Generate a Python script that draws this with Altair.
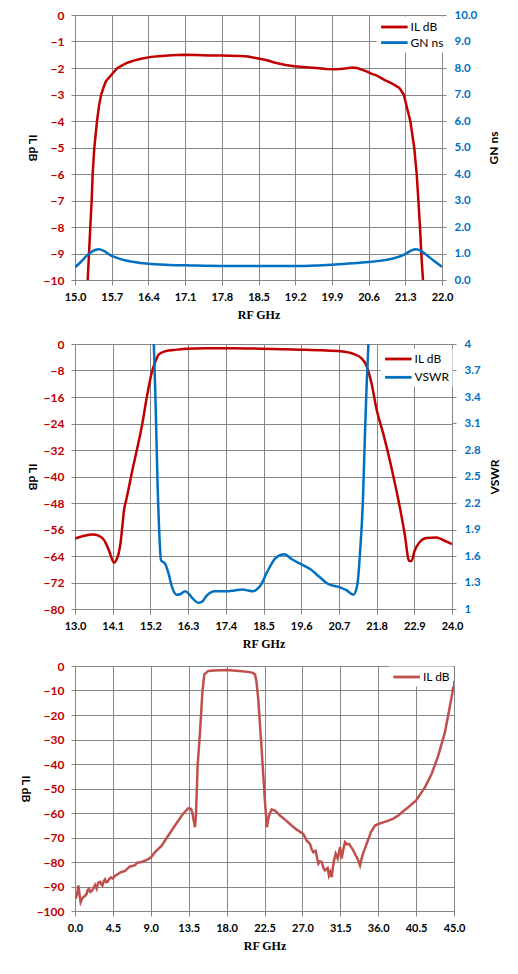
import altair as alt
import pandas as pd

# ---------------- data ----------------
# Chart 1: IL dB and group delay (GN ns) 15-22 GHz
c1_il_f = [15.18, 15.242, 15.267, 15.292, 15.318, 15.337, 15.369, 15.42, 15.46, 15.50, 15.55, 15.59,
           15.655, 15.72, 15.81, 15.90, 16.00, 16.12, 16.26, 16.45, 16.65, 16.85, 17.08, 17.30,
           17.55, 17.78, 17.95, 18.15, 18.30, 18.42, 18.55, 18.68, 18.80, 18.93, 19.05, 19.18,
           19.40, 19.60, 19.80, 19.95, 20.05, 20.15, 20.30, 20.38, 20.45, 20.55, 20.64, 20.77,
           20.90, 21.06, 21.186, 21.27, 21.395, 21.47, 21.517, 21.55, 21.58, 21.605, 21.637, 21.68]
c1_il_db = [-12.0, -10.0, -9.0, -8.0, -7.0, -6.0, -5.0, -4.0, -3.4, -3.0, -2.7, -2.5,
            -2.35, -2.2, -2.0, -1.9, -1.8, -1.72, -1.65, -1.58, -1.55, -1.52, -1.50, -1.51,
            -1.53, -1.53, -1.54, -1.55, -1.57, -1.61, -1.66, -1.72, -1.79, -1.85, -1.90, -1.93,
            -1.97, -2.00, -2.04, -2.05, -2.04, -2.02, -1.98, -2.00, -2.05, -2.12, -2.20, -2.30,
            -2.45, -2.60, -2.75, -3.0, -4.0, -5.0, -6.0, -7.0, -8.0, -9.0, -10.0, -12.0]
c1_gn_f = [15.00, 15.10, 15.20, 15.30, 15.40, 15.45, 15.55, 15.65, 15.75, 15.90, 16.10, 16.40,
           16.80, 17.20, 17.80, 18.50, 19.20, 19.60, 19.90, 20.30, 20.60, 20.90, 21.10, 21.30,
           21.42, 21.50, 21.60, 21.70, 21.85, 22.00]
c1_gn_ns = [0.48, 0.66, 0.87, 1.04, 1.14, 1.16, 1.10, 0.97, 0.87, 0.77, 0.69, 0.61,
            0.57, 0.55, 0.53, 0.53, 0.53, 0.55, 0.58, 0.63, 0.68, 0.75, 0.83, 0.98,
            1.12, 1.16, 1.10, 0.95, 0.72, 0.50]

# Chart 2: IL dB and VSWR 13-24 GHz
c2_il_f = [13.00, 13.27, 13.51, 13.70, 13.85, 13.99, 14.14, 14.216, 14.274, 14.33, 14.38, 14.43,
           14.50, 14.57, 14.67, 14.81, 14.96, 15.10, 15.25, 15.35, 15.44, 15.63, 15.97, 16.26,
           16.80, 17.40, 18.00, 18.42, 19.00, 19.58, 20.20, 20.74, 21.12, 21.37, 21.51, 21.66,
           21.80, 22.00, 22.19, 22.33, 22.48, 22.62, 22.75, 22.82, 22.91, 23.05, 23.25, 23.54,
           23.78, 24.00]
c2_il_db = [-58.7, -57.9, -57.5, -57.9, -59.2, -62.3, -66.0, -65.0, -63.2, -60.0, -55.2, -50.2,
            -46.9, -43.4, -38.3, -31.8, -24.3, -15.8, -8.2, -5.2, -3.2, -2.2, -1.7, -1.4,
            -1.3, -1.3, -1.35, -1.4, -1.55, -1.7, -1.9, -2.2, -3.0, -4.4, -6.7, -12.2,
            -19.8, -27.3, -35.3, -41.9, -49.4, -57.4, -65.5, -65.5, -62.4, -59.9, -58.6, -58.4,
            -59.4, -60.4]
c2_vswr_f = [15.28, 15.30, 15.35, 15.41, 15.47, 15.51, 15.58, 15.63, 15.73, 15.83, 15.97, 16.08,
             16.21, 16.30, 16.41, 16.60, 16.70, 16.84, 17.08, 17.42, 17.65, 17.90, 18.05, 18.19,
             18.30, 18.40, 18.62, 18.86, 19.10, 19.34, 19.58, 19.87, 20.11, 20.40, 20.69, 20.93,
             21.12, 21.24, 21.32, 21.40, 21.46, 21.51, 21.56, 21.58]
c2_vswr = [4.3, 4.0, 3.35, 2.41, 1.77, 1.55, 1.53, 1.51, 1.40, 1.25, 1.16, 1.17,
           1.20, 1.18, 1.13, 1.07, 1.08, 1.15, 1.20, 1.20, 1.21, 1.22, 1.21, 1.20,
           1.22, 1.26, 1.43, 1.58, 1.62, 1.56, 1.51, 1.45, 1.37, 1.28, 1.25, 1.21,
           1.16, 1.28, 1.66, 2.22, 2.98, 3.54, 4.0, 4.3]

# Chart 3: wideband IL dB 0-45 GHz
c3_f = [0.08, 0.25, 0.40, 0.55, 0.67, 0.85, 0.99, 1.20, 1.38, 1.50, 1.66, 1.82, 1.98, 2.15,
        2.38, 2.57, 2.75, 2.97, 3.10, 3.25, 3.40, 3.56, 3.70, 3.88, 4.05, 4.28, 4.50, 4.75,
        5.00, 5.34, 5.60, 5.94, 6.20, 6.53, 6.80, 7.13, 7.40, 7.72, 8.00, 8.31, 8.70, 9.02,
        9.50, 10.29, 11.08, 11.87, 12.66, 13.10, 13.45, 13.77, 13.95, 14.05, 14.25, 14.36,
        14.56, 14.84, 15.12, 15.35, 15.83, 16.50, 18.00, 19.50, 20.58, 21.10, 21.37, 21.55,
        21.76, 22.16, 22.56, 22.79, 22.95, 23.15, 23.35, 23.74, 24.34, 24.93, 25.72, 26.32,
        27.10, 27.30, 27.50, 27.90, 28.10, 28.30, 28.57, 28.75, 28.90, 29.10, 29.30, 29.50,
        29.69, 30.00, 30.15, 30.30, 30.48, 30.71, 30.95, 31.19, 31.47, 31.66, 31.85, 32.06,
        32.30, 32.53, 32.93, 33.33, 33.60, 33.84, 34.12, 34.63, 35.14, 35.62, 36.10, 36.60,
        37.20, 37.80, 38.39, 39.00, 39.57, 40.00, 40.48, 41.00, 41.55, 42.34, 43.13, 43.92,
        44.52, 44.80, 45.00]
c3_db = [-95.0, -93.0, -89.6, -93.5, -96.4, -95.0, -94.3, -93.8, -93.0, -91.5, -90.9, -92.2, -91.9, -91.0,
         -89.4, -90.9, -88.5, -88.1, -89.0, -89.6, -88.0, -87.1, -88.2, -88.0, -87.0, -86.3, -86.8, -85.6,
         -85.2, -84.3, -84.0, -83.6, -82.8, -81.8, -81.6, -81.3, -80.3, -80.1, -79.9, -79.4, -78.8, -78.1,
         -76.0, -73.3, -69.2, -65.1, -61.1, -59.3, -58.1, -58.3, -60.0, -62.4, -65.8, -61.0,
         -40.7, -27.1, -10.9, -3.4, -2.0, -1.8, -1.6, -2.0, -2.4, -2.8, -3.4, -6.5,
         -13.6, -33.9, -55.6, -65.8, -62.4, -60.0, -58.6, -59.0, -61.0, -62.7, -65.1, -66.8,
         -68.5, -69.8, -71.2, -72.6, -74.8, -76.0, -75.5, -78.5, -80.7, -79.8, -80.0, -82.5,
         -83.4, -82.5, -85.5, -84.1, -86.2, -80.0, -76.6, -78.6, -73.9, -78.6, -75.0, -71.9,
         -72.8, -72.6, -74.6, -77.3, -79.0, -81.4, -77.3, -72.6, -67.8, -65.1, -64.4, -63.8,
         -63.1, -62.3, -61.0, -59.2, -57.7, -56.3, -55.0, -52.3, -49.5, -44.1, -36.6, -27.1,
         -16.3, -11.0, -6.1]

# tick values / labels
c1_xticks = [15.0, 15.7, 16.4, 17.1, 17.8, 18.5, 19.2, 19.9, 20.6, 21.3, 22.0]
c1_yticks = [0, -1, -2, -3, -4, -5, -6, -7, -8, -9, -10]
c1_y2ticks = [0, 1, 2, 3, 4, 5, 6, 7, 8, 9, 10]
c2_xticks = [13.0, 14.1, 15.2, 16.3, 17.4, 18.5, 19.6, 20.7, 21.8, 22.9, 24.0]
c2_yticks = [0, -8, -16, -24, -32, -40, -48, -56, -64, -72, -80]
c2_y2ticks = [1, 1.3, 1.6, 1.9, 2.2, 2.5, 2.8, 3.1, 3.4, 3.7, 4]
c3_xticks = [0.0, 4.5, 9.0, 13.5, 18.0, 22.5, 27.0, 31.5, 36.0, 40.5, 45.0]
c3_yticks = [0, -10, -20, -30, -40, -50, -60, -70, -80, -90, -100]

# ---------------- styling ----------------
GRID = "#868686"
RED = "#C00000"
BLUE = "#0070C0"
RED3 = "#C0504D"
SANS = "Lato"
SERIF = "Liberation Serif"


def x_axis(vals):
    return alt.Axis(values=vals, format=".1f", grid=True, gridColor=GRID, gridWidth=1,
                    domainColor=GRID, tickColor=GRID, tickSize=5, labelFont=SANS,
                    labelFontSize=11, labelFontWeight="bold", labelColor="black",
                    labelPadding=6, labelFlush=False, labelOverlap=False,
                    title="RF GHz", titleFont=SERIF, titleFontSize=12,
                    titleFontWeight="bold", titleColor="black", titlePadding=7)


def y_left(vals, fmt="d"):
    return alt.Axis(orient="left", values=vals, format=fmt, grid=True, gridColor=GRID,
                    gridWidth=1, domainColor=GRID, tickColor=GRID, tickSize=4,
                    labelFont=SANS, labelFontSize=12, labelFontWeight="bold",
                    labelColor=RED, labelPadding=7, labelOverlap=False, labelFlush=False,
                    title="IL dB", titleAngle=90, titleBaseline="top", titleFont=SANS,
                    titleFontSize=12, titleFontWeight="bold", titleColor="black",
                    titlePadding=6)


def y_right(vals, fmt, title, pad):
    return alt.Axis(orient="right", values=vals, format=fmt, grid=False,
                    domainColor=GRID, tickColor=GRID, tickSize=4,
                    labelFont=SANS, labelFontSize=11.5, labelFontWeight="bold",
                    labelColor=BLUE, labelPadding=8, labelOverlap=False, labelFlush=False,
                    title=title, titleAngle=270, titleBaseline="top", titleFont=SANS,
                    titleFontSize=12, titleFontWeight="bold", titleColor="black",
                    titlePadding=pad)


LINE_SYMBOL = "M-1,0H3.42"


def legend(lx, ly, rowpad):
    return alt.Legend(title=None, orient="none", legendX=lx, legendY=ly, padding=3,
                      fillColor="white", symbolType=LINE_SYMBOL, symbolSize=144,
                      symbolStrokeWidth=2.8, labelFont=SANS, labelFontSize=12,
                      labelColor="black", labelOffset=16, rowPadding=rowpad)


# ---------------- chart 1 ----------------
d1a = pd.DataFrame({"f": c1_il_f, "v": c1_il_db, "s": "IL dB"})
d1b = pd.DataFrame({"f": c1_gn_f, "v": c1_gn_ns, "s": "GN ns"})
col1 = alt.Color("s:N", scale=alt.Scale(domain=["IL dB", "GN ns"], range=[RED, BLUE]),
                 legend=legend(301.6, 1.5, 1.6))
x1 = alt.X("f:Q", scale=alt.Scale(domain=[15, 22], nice=False, zero=False), axis=x_axis(c1_xticks))
l1a = alt.Chart(d1a).mark_line(strokeWidth=2.5, clip=True).encode(
    x=x1, y=alt.Y("v:Q", scale=alt.Scale(domain=[-10, 0], nice=False), axis=y_left(c1_yticks)),
    color=col1, order="f:Q")
l1b = alt.Chart(d1b).mark_line(strokeWidth=2.5, clip=True, interpolate="monotone").encode(
    x=x1, y=alt.Y("v:Q", scale=alt.Scale(domain=[0, 10], nice=False),
                  axis=y_right(c1_y2ticks, ".1f", "GN ns", 12)),
    color=col1, order="f:Q")
chart1 = alt.layer(l1a, l1b).resolve_scale(y="independent").properties(width=367, height=265)

# ---------------- chart 2 ----------------
d2a = pd.DataFrame({"f": c2_il_f, "v": c2_il_db, "s": "IL dB"})
d2b = pd.DataFrame({"f": c2_vswr_f, "v": c2_vswr, "s": "VSWR"})
col2 = alt.Color("s:N", scale=alt.Scale(domain=["IL dB", "VSWR"], range=[RED, BLUE]),
                 legend=legend(305.6, 4.5, 4.3))
x2 = alt.X("f:Q", scale=alt.Scale(domain=[13, 24], nice=False, zero=False), axis=x_axis(c2_xticks))
l2a = alt.Chart(d2a).mark_line(strokeWidth=2.5, clip=True, interpolate="monotone").encode(
    x=x2, y=alt.Y("v:Q", scale=alt.Scale(domain=[-80, 0], nice=False), axis=y_left(c2_yticks)),
    color=col2, order="f:Q")
l2b = alt.Chart(d2b).mark_line(strokeWidth=2.5, clip=True, interpolate="monotone").encode(
    x=x2, y=alt.Y("v:Q", scale=alt.Scale(domain=[1, 4], nice=False, zero=False),
                  axis=y_right(c2_y2ticks, "~g", "VSWR", 9)),
    color=col2, order="f:Q")
chart2 = alt.layer(l2a, l2b).resolve_scale(y="independent").properties(
    width=377, height=265,
    title=alt.TitleParams(" ", fontSize=7, offset=0))

# ---------------- chart 3 ----------------
d3 = pd.DataFrame({"f": c3_f, "v": c3_db, "s": "IL dB"})
col3 = alt.Color("s:N", scale=alt.Scale(domain=["IL dB"], range=[RED3]), legend=legend(313.9, 0.5, 2))
chart3 = alt.Chart(d3).mark_line(strokeWidth=2.5, clip=True).encode(
    x=alt.X("f:Q", scale=alt.Scale(domain=[0, 45], nice=False, zero=False), axis=x_axis(c3_xticks)),
    y=alt.Y("v:Q", scale=alt.Scale(domain=[-100, 0], nice=False), axis=y_left(c3_yticks)),
    color=col3, order="f:Q").properties(width=379, height=245)

chart = alt.vconcat(chart1, chart2, chart3, spacing=9).resolve_scale(color="independent").properties(
    padding={"left": 10, "top": 0, "right": 0, "bottom": 0}
).configure_view(stroke=None).configure(background="white")

chart.save("out.html", embed_options={"renderer": "svg", "actions": False})
